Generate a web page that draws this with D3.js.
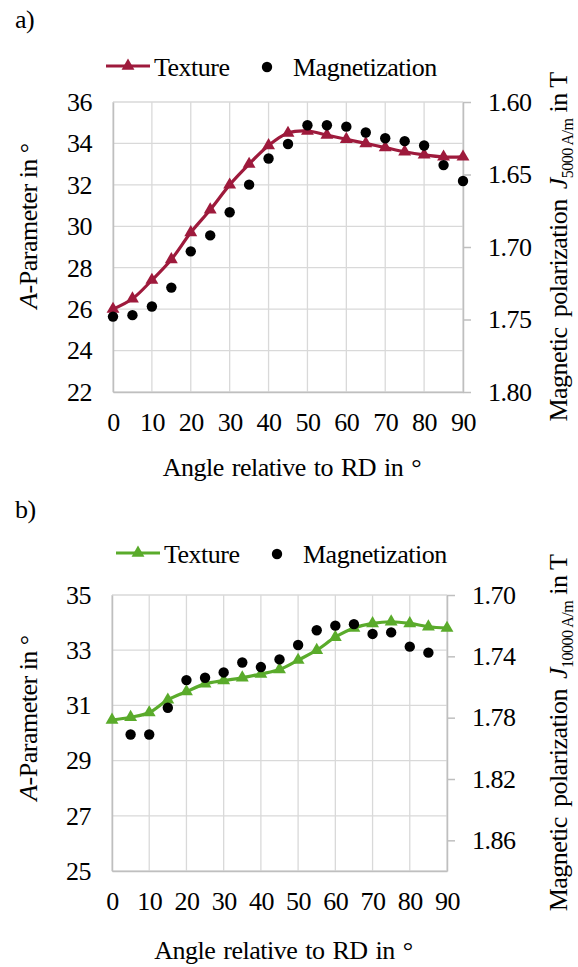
<!DOCTYPE html>
<html>
<head>
<meta charset="utf-8">
<script src="https://cdn.jsdelivr.net/npm/d3@7"></script>
<style>
  body { margin: 0; background: #fff; }
  svg text { font-family: "Liberation Serif", "Times New Roman", serif; letter-spacing: -0.5px; fill: #000; }
</style>
</head>
<body>
<div id="chart"></div>
<script>
//=========Data=========//
var angles = [0, 5, 10, 15, 20, 25, 30, 35, 40, 45, 50, 55, 60, 65, 70, 75, 80, 85, 90];
var xTicks = [0, 10, 20, 30, 40, 50, 60, 70, 80, 90];

// panel a) - 5000 A/m
var textureA = [26.0, 26.5, 27.4, 28.4, 29.7, 30.8, 32.0, 33.0, 33.9, 34.5, 34.6, 34.4, 34.2, 34.0, 33.8, 33.6, 33.45, 33.35, 33.35];
var magAnglesA = [0, 5, 10, 15, 20, 25, 30, 35, 40, 45, 50, 55, 60, 65, 70, 75, 80, 85, 90];
var magA = [1.748, 1.747, 1.741, 1.728, 1.703, 1.692, 1.676, 1.657, 1.639, 1.629, 1.616, 1.616, 1.617, 1.621, 1.625, 1.627, 1.630, 1.6435, 1.6545];
var leftTicksA = [22, 24, 26, 28, 30, 32, 34, 36];
var rightTicksA = [1.60, 1.65, 1.70, 1.75, 1.80];

// panel b) - 10000 A/m
var textureB = [30.47, 30.57, 30.74, 31.2, 31.5, 31.78, 31.9, 32.0, 32.14, 32.3, 32.64, 33.0, 33.47, 33.8, 33.97, 34.03, 33.97, 33.85, 33.8];
var magAnglesB = [5, 10, 15, 20, 25, 30, 35, 40, 45, 50, 55, 60, 65, 70, 75, 80, 85];
var magB = [1.791, 1.791, 1.7735, 1.7555, 1.754, 1.7505, 1.744, 1.747, 1.742, 1.7326, 1.723, 1.720, 1.719, 1.7254, 1.7244, 1.7337, 1.7376];
var leftTicksB = [25, 27, 29, 31, 33, 35];
var rightTicksB = [1.70, 1.74, 1.78, 1.82, 1.86];

//=========SVG area=========//
var svgWidth = 578;
var svgHeight = 967;
var gridColor = "#d9d9d9";
var axisColor = "#bfbfbf";
var fontSize = "26px";

var svg = d3
  .select("#chart")
  .append("svg")
  .attr("width", svgWidth)
  .attr("height", svgHeight);

// triangle marker path
var tri = d3.symbol().type(d3.symbolTriangle).size(72);

//=========Draw one panel=========//
function drawPanel(p) {
  var g = svg.append("g");

  var xScale = d3.scaleLinear().domain([0, 90]).range([p.left, p.right]);
  var yLeft = d3.scaleLinear().domain(p.leftDomain).range([p.bottom, p.top]);
  // right axis is reversed: small J at the top
  var yRight = d3.scaleLinear().domain(p.rightDomain).range([p.top, p.bottom]);

  // panel letter
  g.append("text")
    .attr("x", 15)
    .attr("y", p.letterY)
    .style("font-size", fontSize)
    .text(p.letter);

  // gridlines
  g.selectAll(".hgrid")
    .data(p.leftTicks)
    .enter()
    .append("line")
    .attr("x1", p.left)
    .attr("x2", p.right)
    .attr("y1", (d) => yLeft(d))
    .attr("y2", (d) => yLeft(d))
    .attr("stroke", gridColor)
    .attr("stroke-width", 1.3);

  g.selectAll(".vgrid")
    .data(xTicks)
    .enter()
    .append("line")
    .attr("x1", (d) => xScale(d))
    .attr("x2", (d) => xScale(d))
    .attr("y1", p.top)
    .attr("y2", p.bottom)
    .attr("stroke", gridColor)
    .attr("stroke-width", 1.3);

  // left axis (no ticks, labels only)
  var leftAxis = d3.axisLeft(yLeft).tickValues(p.leftTicks).tickSize(0).tickPadding(21);
  var la = g.append("g").attr("transform", `translate(${p.left},0)`).call(leftAxis);
  la.attr("font-family", null).attr("font-size", null);
  la.select(".domain").attr("stroke", axisColor).attr("stroke-width", 1.5);
  la.selectAll("text").style("font-size", fontSize);

  // bottom axis
  var bottomAxis = d3.axisBottom(xScale).tickValues(xTicks).tickSize(0).tickPadding(p.xPad);
  var ba = g.append("g").attr("transform", `translate(0,${p.bottom})`).call(bottomAxis);
  ba.attr("font-family", null).attr("font-size", null);
  ba.select(".domain").attr("stroke", axisColor).attr("stroke-width", 1.5);
  ba.selectAll("text").style("font-size", fontSize);

  // right axis with outward ticks
  var rightAxis = d3
    .axisRight(yRight)
    .tickValues(p.rightTicks)
    .tickSizeInner(8)
    .tickSizeOuter(0)
    .tickPadding(17)
    .tickFormat(d3.format(".2f"));
  var ra = g.append("g").attr("transform", `translate(${p.right},0)`).call(rightAxis);
  ra.attr("font-family", null).attr("font-size", null);
  ra.select(".domain").attr("stroke", axisColor).attr("stroke-width", 1.5);
  ra.selectAll("line").attr("stroke", axisColor).attr("stroke-width", 1.5);
  ra.selectAll("text").style("font-size", fontSize);

  // axis titles
  g.append("text")
    .attr("x", (p.left + p.right) / 2 + 4)
    .attr("y", p.xTitleY)
    .attr("text-anchor", "middle")
    .style("font-size", fontSize)
    .style("word-spacing", "2px")
    .text("Angle relative to RD in °");

  var lt = g.append("text")
    .attr("transform", `translate(37,${p.leftTitleY}) rotate(-90)`)
    .attr("text-anchor", "middle")
    .style("font-size", fontSize);
  lt.append("tspan").style("font-style", "italic").text("A");
  lt.append("tspan").text("-Parameter in °");

  var rt = g.append("text")
    .attr("transform", `translate(567,${(p.top + p.bottom) / 2}) rotate(-90)`)
    .attr("text-anchor", "middle")
    .style("font-size", fontSize)
    .style("word-spacing", "4px");
  rt.append("tspan").text("Magnetic polarization ");
  rt.append("tspan").style("font-style", "italic").text("J");
  rt.append("tspan").attr("dy", 6).style("font-size", "16px").style("word-spacing", "0px").text(p.sub);
  rt.append("tspan").attr("dy", -6).style("word-spacing", "0px").text(" in T");

  // texture smoothed line
  var line = d3
    .line()
    .x((d, i) => xScale(angles[i]))
    .y((d) => yLeft(d))
    .curve(d3.curveCatmullRom.alpha(0.5));

  g.append("path")
    .datum(p.texture)
    .attr("d", line)
    .attr("fill", "none")
    .attr("stroke", p.color)
    .attr("stroke-width", 3.2);

  g.selectAll(".tri")
    .data(p.texture)
    .enter()
    .append("path")
    .attr("d", tri)
    .attr("transform", (d, i) => `translate(${xScale(angles[i])},${yLeft(d)})`)
    .attr("fill", p.color);

  // magnetization dots
  g.selectAll(".dot")
    .data(p.mag)
    .enter()
    .append("circle")
    .attr("cx", (d, i) => xScale(p.magAngles[i]))
    .attr("cy", (d) => yRight(d))
    .attr("r", 5.2)
    .attr("fill", "#000");

  // legend
  var lg = g.append("g").attr("transform", `translate(${p.legendX},${p.legendY})`);
  lg.append("line")
    .attr("x1", 0)
    .attr("x2", 44)
    .attr("y1", 0)
    .attr("y2", 0)
    .attr("stroke", p.color)
    .attr("stroke-width", 3.2);
  lg.append("path").attr("d", tri).attr("transform", "translate(22,0)").attr("fill", p.color);
  lg.append("text").attr("x", 48).attr("y", 10).style("font-size", fontSize).text("Texture");
  lg.append("circle").attr("cx", 161).attr("cy", 1).attr("r", 5.2).attr("fill", "#000");
  lg.append("text").attr("x", 187).attr("y", 10).style("font-size", fontSize).text("Magnetization");
}

drawPanel({
  letter: "a)",
  letterY: 28,
  left: 113,
  right: 463,
  top: 102,
  bottom: 392,
  leftDomain: [22, 36],
  rightDomain: [1.60, 1.80],
  leftTicks: leftTicksA,
  rightTicks: rightTicksA,
  texture: textureA,
  magAngles: magAnglesA,
  mag: magA,
  color: "#9e1a3c",
  sub: "5000 A/m",
  xPad: 21,
  xTitleY: 476,
  leftTitleY: 226,
  legendX: 106,
  legendY: 66
});

drawPanel({
  letter: "b)",
  letterY: 518,
  left: 112,
  right: 447,
  top: 595,
  bottom: 871,
  leftDomain: [25, 35],
  rightDomain: [1.70, 1.88],
  leftTicks: leftTicksB,
  rightTicks: rightTicksB,
  texture: textureB,
  magAngles: magAnglesB,
  mag: magB,
  color: "#5aab2b",
  sub: "10000 A/m",
  xPad: 21,
  xTitleY: 959,
  leftTitleY: 718,
  legendX: 116,
  legendY: 553
});
</script>
</body>
</html>
